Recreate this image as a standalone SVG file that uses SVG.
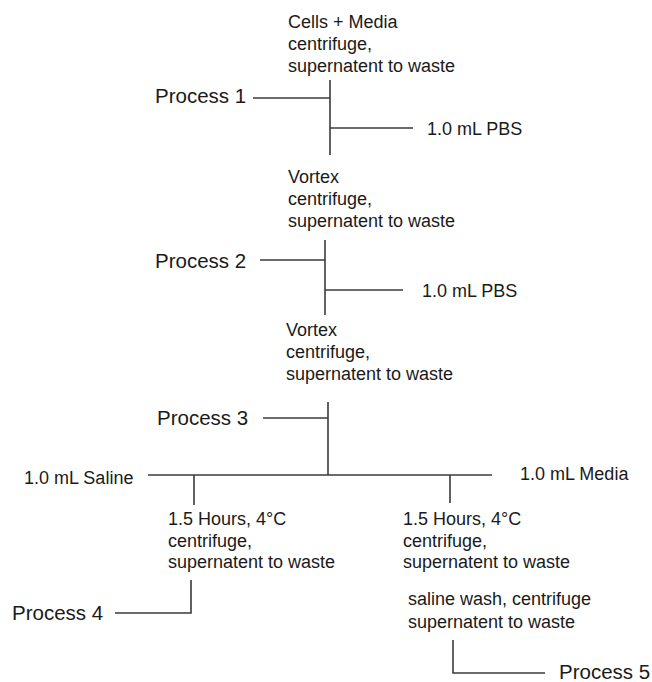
<svg xmlns="http://www.w3.org/2000/svg" width="652" height="682" viewBox="0 0 652 682">
<style>
text { font-family: "Liberation Sans", Arial, sans-serif; fill: #1a1a1a; }
.s { font-size: 18px; }
.p { font-size: 20.5px; }
.c { stroke: #3a3a3a; stroke-width: 1.6; fill: none; }
</style>
<rect width="652" height="682" fill="#ffffff"/>
<g id="step1">
<text class="s" x="288" y="28">Cells + Media</text>
<text class="s" x="288" y="50">centrifuge,</text>
<text class="s" x="288" y="72">supernatent to waste</text>
</g>
<g id="process1"><text class="p" x="155" y="103">Process 1</text></g>
<g id="pbs1"><text class="s" x="427" y="135">1.0 mL PBS</text></g>
<g id="step2">
<text class="s" x="288" y="183">Vortex</text>
<text class="s" x="288" y="205">centrifuge,</text>
<text class="s" x="288" y="227">supernatent to waste</text>
</g>
<g id="process2"><text class="p" x="155" y="268">Process 2</text></g>
<g id="pbs2"><text class="s" x="422" y="297">1.0 mL PBS</text></g>
<g id="step3">
<text class="s" x="286" y="336">Vortex</text>
<text class="s" x="286" y="358">centrifuge,</text>
<text class="s" x="286" y="380">supernatent to waste</text>
</g>
<g id="process3"><text class="p" x="157" y="425">Process 3</text></g>
<g id="saline"><text class="s" x="24" y="484">1.0 mL Saline</text></g>
<g id="media"><text class="s" x="520" y="480">1.0 mL Media</text></g>
<g id="step4a">
<text class="s" x="168" y="525">1.5 Hours, 4°C</text>
<text class="s" x="168" y="547">centrifuge,</text>
<text class="s" x="168" y="568">supernatent to waste</text>
</g>
<g id="step4b">
<text class="s" x="403" y="525">1.5 Hours, 4°C</text>
<text class="s" x="403" y="547">centrifuge,</text>
<text class="s" x="403" y="568">supernatent to waste</text>
</g>
<g id="process4"><text class="p" x="12" y="620">Process 4</text></g>
<g id="step5">
<text class="s" x="408" y="605">saline wash, centrifuge</text>
<text class="s" x="408" y="628">supernatent to waste</text>
</g>
<g id="process5"><text class="p" x="559" y="679">Process 5</text></g>
<g id="connectors" class="c">
<line x1="330" y1="80" x2="330" y2="155"/>
<line x1="253" y1="98" x2="330" y2="98"/>
<line x1="330" y1="128" x2="413" y2="128"/>
<line x1="325" y1="240" x2="325" y2="315"/>
<line x1="260" y1="260" x2="325" y2="260"/>
<line x1="325" y1="290" x2="403" y2="290"/>
<line x1="328" y1="402" x2="328" y2="475"/>
<line x1="263" y1="418" x2="328" y2="418"/>
<line x1="148" y1="475" x2="492" y2="475"/>
<line x1="194" y1="475" x2="194" y2="505"/>
<line x1="450" y1="475" x2="450" y2="503"/>
<polyline points="191,580 191,613 115,613"/>
<polyline points="453,640 453,673 545,673"/>
</g>
</svg>
